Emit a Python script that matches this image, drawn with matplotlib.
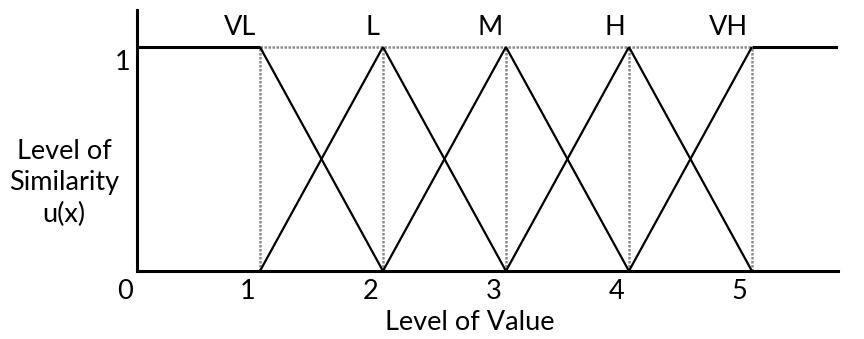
import matplotlib
matplotlib.use('Agg')
import matplotlib.pyplot as plt

plt.rcParams['font.family'] = ['Lato', 'DejaVu Sans']

# fuzzy sets: name and peak position on the value axis
categories = ['VL', 'L', 'M', 'H', 'VH']
peaks = [1, 2, 3, 4, 5]
x_ticks = [0, 1, 2, 3, 4, 5]
x_tick_labels = ['0', '1', '2', '3', '4', '5']
x_max = 5.7
y_max = 1.165
fs = 19.5

W, H = 864, 339
fig = plt.figure(figsize=(W / 100, H / 100), dpi=100)
ax = fig.add_axes([137 / W, (H - 271) / H, 701 / W, 261 / H])

black = dict(color='black', lw=1.6, solid_capstyle='butt')
dotted = dict(color='#8c8c8c', lw=1.8, ls=(0, (1, 0.6)))

# dotted guides: verticals at every peak and top line between first and last peak
for p in peaks:
    ax.plot([p, p], [0, 1], **dotted)
ax.plot([peaks[0], peaks[-1]], [1, 1], **dotted)

# shoulders of VL and VH
ax.plot([0, peaks[0]], [1, 1], color='black', lw=2.2, solid_capstyle='butt')
ax.plot([peaks[-1], x_max], [1, 1], color='black', lw=2.2, solid_capstyle='butt')

# triangle edges
for i, p in enumerate(peaks):
    if i > 0:
        ax.plot([peaks[i - 1], p], [0, 1], **black)
    if i < len(peaks) - 1:
        ax.plot([p, peaks[i + 1]], [1, 0], **black)

for name, p in zip(categories, peaks):
    ax.text(p - 0.03, 1.085, name, ha='right', va='center', fontsize=fs)

for spine in ['top', 'right']:
    ax.spines[spine].set_visible(False)
ax.spines['left'].set_linewidth(2.2)
ax.spines['bottom'].set_linewidth(2.2)

ax.set_xticks([])
ax.set_yticks([])
ax.set_xlim(0, x_max)
ax.set_ylim(0, y_max)

# tick labels sit a little left of the actual breakpoints
for t, lab in zip(x_ticks, x_tick_labels):
    ax.text(t - 0.1, -0.09, lab, ha='center', va='center', fontsize=fs, clip_on=False)
ax.text(-0.05, 0.93, '1', ha='right', va='center', fontsize=fs, clip_on=False)

fig.text(64 / W, 1 - 183 / H, 'Level of\nSimilarity\nu(x)', ha='center', va='center',
         fontsize=fs, linespacing=1.3)
fig.text(470 / W, 1 - 323 / H, 'Level of Value', ha='center', va='center', fontsize=fs)

fig.savefig('out.png', dpi=100)
